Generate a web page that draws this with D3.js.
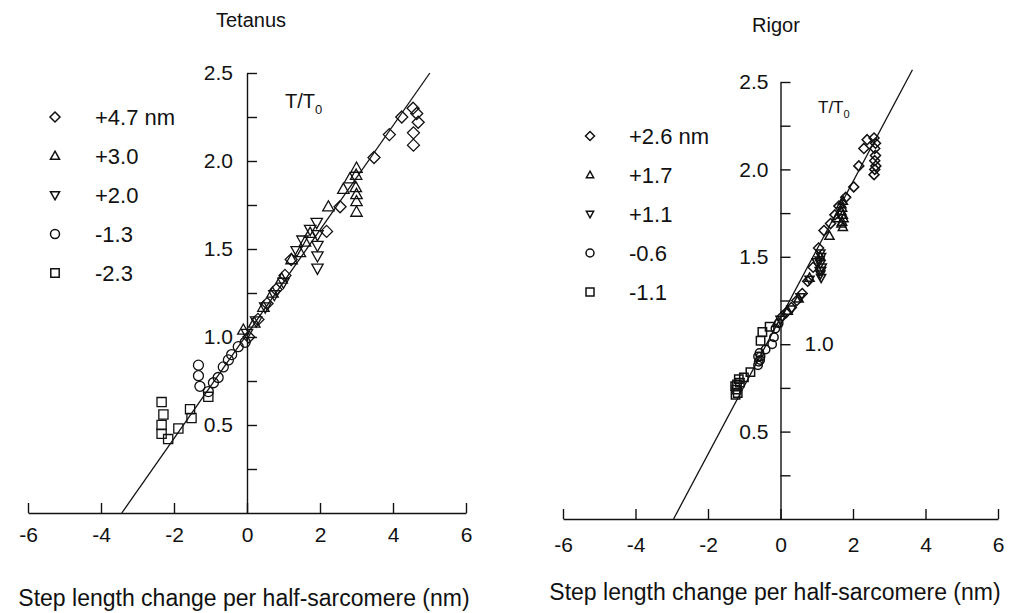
<!DOCTYPE html>
<html>
<head>
<meta charset="utf-8">
<script src="https://cdn.jsdelivr.net/npm/d3@7/dist/d3.min.js"></script>
<style>
  body { margin: 0; background: #fff; }
  svg { display: block; }
  text { font-family: "Liberation Sans", Arial, Helvetica, sans-serif; fill: #111; }
</style>
</head>
<body>
<svg id="chart" width="1013" height="613"></svg>
<script>
// ---- shared axis values ----
const xTickValues = [-6, -4, -2, 0, 2, 4, 6];
const yTickValues = [0.25, 0.5, 0.75, 1.0, 1.25, 1.5, 1.75, 2.0, 2.25, 2.5];
const yLabelledValues = [0.5, 1.0, 1.5, 2.0, 2.5];
const xAxisTitle = "Step length change per half-sarcomere (nm)";
const markerShapes = ["diamond", "triangleUp", "triangleDown", "circle", "square"];

// ---- Tetanus: [length change (nm), T/T0] ----
const tetanusSteps = ["+4.7 nm", "+3.0", "+2.0", "-1.3", "-2.3"];
const tetanusPlus47 = [
  [0.05, 1.00], [0.30, 1.10], [0.55, 1.19], [0.80, 1.27], [1.04, 1.35], [1.21, 1.44],
  [2.18, 1.60], [2.55, 1.74], [3.48, 2.02], [3.90, 2.15], [4.24, 2.25],
  [4.55, 2.30], [4.65, 2.27], [4.69, 2.22], [4.56, 2.16], [4.56, 2.09]
];
const tetanusPlus30 = [
  [-0.10, 1.04], [0.20, 1.08], [0.45, 1.17], [0.70, 1.25], [0.95, 1.33], [1.22, 1.44],
  [1.45, 1.48], [1.59, 1.54], [1.73, 1.59], [2.23, 1.74], [2.64, 1.84], [2.82, 1.90],
  [3.00, 1.96], [2.99, 1.92], [2.98, 1.85], [3.00, 1.81], [3.00, 1.77], [3.00, 1.71]
];
const tetanusPlus20 = [
  [0.00, 1.02], [0.25, 1.09], [0.50, 1.17], [0.75, 1.24], [1.00, 1.31], [1.36, 1.49],
  [1.52, 1.55], [1.73, 1.61], [1.91, 1.65], [1.93, 1.58], [1.93, 1.52], [1.93, 1.46], [1.93, 1.39]
];
const tetanusMinus13 = [
  [-0.05, 0.97], [-0.24, 0.945], [-0.42, 0.90], [-0.51, 0.87], [-0.65, 0.83], [-0.79, 0.77],
  [-0.92, 0.74], [-1.06, 0.69], [-1.29, 0.72], [-1.33, 0.78], [-1.33, 0.84]
];
const tetanusMinus23 = [
  [-1.06, 0.66], [-1.52, 0.54], [-1.56, 0.59], [-1.88, 0.48], [-2.16, 0.42],
  [-2.34, 0.45], [-2.34, 0.50], [-2.29, 0.56], [-2.34, 0.63]
];
const tetanusFit = [[-3.43, 0], [5.01, 2.5]];

// ---- Rigor: [length change (nm), T/T0] ----
const rigorSteps = ["+2.6 nm", "+1.7", "+1.1", "-0.6", "-1.1"];
const rigorPlus26 = [
  [0.05, 1.16], [0.15, 1.18], [0.30, 1.21], [0.45, 1.25], [0.60, 1.29], [0.75, 1.36],
  [0.90, 1.44], [1.05, 1.55], [1.20, 1.65], [1.38, 1.69], [1.50, 1.74], [1.61, 1.79],
  [1.80, 1.84], [2.02, 1.90], [2.16, 2.02], [2.30, 2.12], [2.39, 2.17],
  [2.58, 2.18], [2.62, 2.15], [2.60, 2.12], [2.62, 2.08], [2.60, 2.05], [2.63, 2.02],
  [2.60, 2.00], [2.58, 1.97]
];
const rigorPlus17 = [
  [-0.10, 1.12], [0.20, 1.19], [0.50, 1.26], [0.80, 1.38], [1.10, 1.50], [1.35, 1.62],
  [1.55, 1.72], [1.68, 1.80], [1.72, 1.82], [1.70, 1.78], [1.68, 1.76], [1.72, 1.74],
  [1.74, 1.72], [1.70, 1.70], [1.68, 1.69], [1.72, 1.67]
];
const rigorPlus11 = [
  [0.00, 1.14], [0.30, 1.20], [0.55, 1.27], [0.80, 1.37], [1.00, 1.47], [1.10, 1.52],
  [1.12, 1.50], [1.08, 1.48], [1.10, 1.46], [1.14, 1.44], [1.12, 1.42], [1.08, 1.42],
  [1.10, 1.40], [1.12, 1.38]
];
const rigorMinus06 = [
  [-0.05, 1.12], [-0.14, 1.09], [-0.18, 1.04], [-0.23, 1.00], [-0.41, 0.97], [-0.55, 0.93],
  [-0.60, 0.90], [-0.62, 0.93], [-0.58, 0.95], [-0.62, 0.88], [-0.56, 0.91]
];
const rigorMinus11 = [
  [-0.30, 1.10], [-0.50, 1.07], [-0.55, 1.02], [-0.83, 0.84], [-1.01, 0.81],
  [-1.15, 0.80], [-1.12, 0.78], [-1.20, 0.77], [-1.25, 0.76], [-1.22, 0.74],
  [-1.18, 0.72], [-1.24, 0.71]
];
const rigorFit = [[-2.95, 0], [3.64, 2.57]];

// ---- layout of the two panels ----
const panels = [
  {
    title: "Tetanus", titleX: 251, titleY: 27,
    x0: 28, x1: 466, yBottom: 513, yTop: 73,
    series: [tetanusPlus47, tetanusPlus30, tetanusPlus20, tetanusMinus13, tetanusMinus23],
    steps: tetanusSteps, fit: tetanusFit, stroke: 1.3,
    markerSize: { diamond: 6, triangleUp: 6, triangleDown: 6, circle: 5, square: 4.6 },
    legend: { x: 55, y: 117, dy: 39, textX: 95, size: { diamond: 5, triangleUp: 4.8, triangleDown: 4.8, circle: 4.5, square: 4.2 } },
    yLabelPad: 14, xLabelPad: 14, rightSideLabels: [],
    ratio: { x: 285, y: 108, size: 20 },
    axisTitle: { x: 244, y: 606 }
  },
  {
    title: "Rigor", titleX: 776, titleY: 32,
    x0: 563, x1: 998, yBottom: 519, yTop: 82,
    series: [rigorPlus26, rigorPlus17, rigorPlus11, rigorMinus06, rigorMinus11],
    steps: rigorSteps, fit: rigorFit, stroke: 1.5,
    markerSize: { diamond: 5, triangleUp: 4.8, triangleDown: 4.8, circle: 4.2, square: 4.2 },
    legend: { x: 590, y: 136, dy: 39, textX: 629, size: { diamond: 4.5, triangleUp: 3.8, triangleDown: 3.8, circle: 4, square: 4 } },
    yLabelPad: 12, xLabelPad: 18, rightSideLabels: [1.0],
    ratio: { x: 818, y: 113, size: 17 },
    axisTitle: { x: 775, y: 600 }
  }
];

// open marker outlines centred on (0,0)
function markerPath(shape, s) {
  switch (shape) {
    case "diamond": return `M0,${-s}L${s},0L0,${s}L${-s},0Z`;
    case "triangleUp": return `M0,${-s}L${s * 0.95},${s * 0.7}L${-s * 0.95},${s * 0.7}Z`;
    case "triangleDown": return `M0,${s}L${s * 0.95},${-s * 0.7}L${-s * 0.95},${-s * 0.7}Z`;
    case "circle": return `M${s},0A${s},${s} 0 1,1 ${-s},0A${s},${s} 0 1,1 ${s},0Z`;
    default: return `M${-s},${-s}H${s}V${s}H${-s}Z`;
  }
}

const svg = d3.select("#chart");
const fmt = d3.format(".1f");

panels.forEach(p => {
  const g = svg.append("g");
  const x = d3.scaleLinear().domain([-6, 6]).range([p.x0, p.x1]);
  const y = d3.scaleLinear().domain([0, 2.5]).range([p.yBottom, p.yTop]);

  // title
  g.append("text").attr("x", p.titleX).attr("y", p.titleY)
    .attr("text-anchor", "middle").attr("font-size", 20).text(p.title);

  // x axis along T = 0, ticks pointing up
  const xAxis = d3.axisBottom(x).tickValues(xTickValues)
    .tickSizeInner(-10).tickSizeOuter(0).tickPadding(p.xLabelPad)
    .tickFormat(d3.format("d"));
  const gx = g.append("g").attr("transform", `translate(0,${y(0)})`).call(xAxis);
  gx.selectAll("text").attr("font-size", 21).attr("fill", "#111")
    .text(d => d < 0 ? "-" + Math.abs(d) : d);

  // y axis along x = 0, ticks pointing right
  const yAxis = d3.axisLeft(y).tickValues(yTickValues)
    .tickSizeInner(-10).tickSizeOuter(0).tickPadding(p.yLabelPad)
    .tickFormat(d => (yLabelledValues.some(v => Math.abs(v - d) < 1e-9) &&
                      !p.rightSideLabels.some(v => Math.abs(v - d) < 1e-9)) ? fmt(d) : "");
  const gy = g.append("g").attr("transform", `translate(${x(0)},0)`).call(yAxis);
  gy.selectAll("text").attr("font-size", 21).attr("fill", "#111");
  [gx, gy].forEach(a => {
    a.selectAll("path.domain").attr("stroke", "#111").attr("stroke-width", 1.4);
    a.selectAll(".tick line").attr("stroke", "#111").attr("stroke-width", 1.4);
  });
  // labels drawn on the right of the axis where data would cover them
  p.rightSideLabels.forEach(v => {
    g.append("text").attr("x", x(0) + 24).attr("y", y(v)).attr("dy", "0.32em")
      .attr("font-size", 21).text(fmt(v));
  });

  // T/T0 label
  const r = g.append("text").attr("x", p.ratio.x).attr("y", p.ratio.y).attr("font-size", p.ratio.size);
  r.append("tspan").text("T/T");
  r.append("tspan").attr("font-size", p.ratio.size * 0.65).attr("dy", p.ratio.size * 0.28).text("0");

  // regression line
  g.append("path").datum(p.fit)
    .attr("d", d3.line().x(d => x(d[0])).y(d => y(d[1])))
    .attr("fill", "none").attr("stroke", "#111").attr("stroke-width", 1.3);

  // data points
  p.series.forEach((pts, i) => {
    const shape = markerShapes[i];
    g.append("g").selectAll("path").data(pts).join("path")
      .attr("transform", d => `translate(${x(d[0])},${y(d[1])})`)
      .attr("d", markerPath(shape, p.markerSize[shape]))
      .attr("fill", "none").attr("stroke", "#111").attr("stroke-width", p.stroke);
  });

  // legend
  const lg = g.append("g");
  p.steps.forEach((label, i) => {
    const shape = markerShapes[i];
    const cy = p.legend.y + i * p.legend.dy;
    lg.append("path").attr("transform", `translate(${p.legend.x},${cy})`)
      .attr("d", markerPath(shape, p.legend.size[shape]))
      .attr("fill", "none").attr("stroke", "#111").attr("stroke-width", 1.5);
    lg.append("text").attr("x", p.legend.textX).attr("y", cy).attr("dy", "0.36em")
      .attr("font-size", 22).text(label);
  });

  // x axis title
  g.append("text").attr("x", p.axisTitle.x).attr("y", p.axisTitle.y)
    .attr("text-anchor", "middle").attr("font-size", 23).text(xAxisTitle);
});
</script>
</body>
</html>
